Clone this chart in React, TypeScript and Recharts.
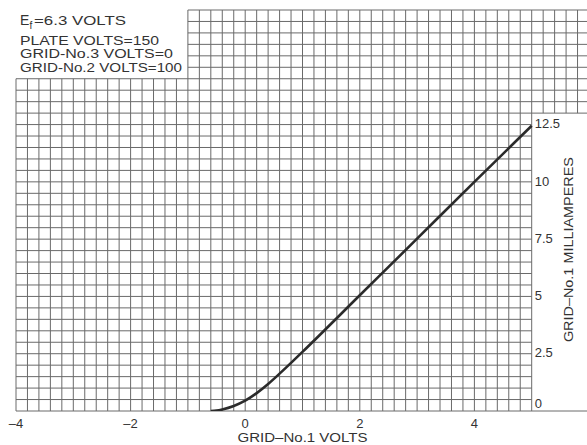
import React from 'react';
import {
  LineChart,
  Line,
  XAxis,
  YAxis,
  ReferenceLine,
  ReferenceDot,
} from 'recharts';

document.body.style.margin = '0';

// curve: grid-No.1 volts vs grid-No.1 milliamperes
const gridVolts = [-0.6, -0.5, -0.4, -0.2, 0, 0.2, 0.4, 0.6, 0.8, 1, 2, 3, 4, 5];
const gridMilliamps = [0, 0.02, 0.07, 0.22, 0.45, 0.78, 1.18, 1.63, 2.1, 2.58, 5.05, 7.52, 10, 12.45];

const xTicks = [-4, -2, 0, 2, 4];
const yTicks = [0, 2.5, 5, 7.5, 10, 12.5];

const conditionLines = ['PLATE VOLTS=150', 'GRID-No.3 VOLTS=0', 'GRID-No.2 VOLTS=100'];

const X_MIN = -4;
const X_MAX = 6;
const Y_MAX = 17.5;
const PANEL_TOP = 13; // right-hand label strip has no ruling below this
const BOX_RIGHT = -1; // legend box corner
const BOX_BOTTOM = 14.5;

const FONT = '"Liberation Sans", Arial, sans-serif';
const INK = '#333';
const RULE = '#6a6a6a';

const data = gridVolts.map((v, i) => ({ v, ma: gridMilliamps[i] }));

// graph-paper ruling: 0.2 V by 0.5 mA
const vRules: number[] = [];
for (let i = 0; i <= 50; i++) vRules.push(Math.round((X_MIN + i * 0.2) * 10) / 10);
const hRules: number[] = [];
for (let i = 0; i <= 35; i++) hRules.push(i * 0.5);

const eps = 1e-6;

const ConditionsBox = (props: any) => {
  const { x, y } = props.viewBox;
  const left = x + 5;
  return (
    <g fontFamily={FONT} fill={INK}>
      <text x={left} y={y + 16} fontSize={14}>E</text>
      <text x={left + 9.5} y={y + 20} fontSize={10}>f</text>
      <text x={left + 14} y={y + 16} fontSize={13} textLength={92} lengthAdjust="spacingAndGlyphs">
        =6.3  VOLTS
      </text>
      {conditionLines.map((t, i) => (
        <text
          key={t}
          x={left}
          y={y + 35.5 + i * 13.7}
          fontSize={12}
          textLength={[139, 153, 162][i]}
          lengthAdjust="spacingAndGlyphs"
        >
          {t}
        </text>
      ))}
    </g>
  );
};

const AmpLabel = (props: any) => {
  const { x, y } = props.viewBox;
  const value = props.value;
  return (
    <text
      x={x + 4}
      y={y + (value === '0' ? -7 : 0)}
      dy="0.36em"
      fontFamily={FONT}
      fontSize={13}
      fill={INK}
    >
      {value}
    </text>
  );
};

const AmpTitle = (props: any) => {
  const { x, y } = props.viewBox;
  return (
    <text
      x={x}
      y={y}
      dy="0.36em"
      transform={`rotate(-90 ${x} ${y})`}
      textAnchor="middle"
      fontFamily={FONT}
      fontSize={13}
      fill={INK}
      textLength={185}
      lengthAdjust="spacingAndGlyphs"
    >
      GRID–No.1  MILLIAMPERES
    </text>
  );
};

const VoltTick = (props: any) => {
  const { x, y, payload } = props;
  const v = payload.value;
  return (
    <text x={x} y={y} dy={9} textAnchor="middle" fontFamily={FONT} fontSize={13} fill={INK}>
      {v < 0 ? `–${Math.abs(v)}` : v}
    </text>
  );
};

const VoltTitle = (props: any) => {
  const { x, y, width } = props.viewBox;
  return (
    <text
      x={x + width / 2}
      y={y + 31}
      textAnchor="middle"
      fontFamily={FONT}
      fontSize={12}
      fill={INK}
      textLength={130}
      lengthAdjust="spacingAndGlyphs"
    >
      GRID–No.1  VOLTS
    </text>
  );
};

export default function App() {
  return (
    <div style={{ width: 587, height: 445, overflow: 'hidden', background: '#fff' }}>
      <LineChart
        width={589}
        height={445}
        data={data}
        margin={{ top: 10, right: 0, bottom: 0, left: 16 }}
      >
        <XAxis
          type="number"
          dataKey="v"
          domain={[X_MIN, X_MAX]}
          ticks={xTicks}
          allowDataOverflow
          axisLine={false}
          tickLine={false}
          height={34}
          tick={<VoltTick />}
          label={<VoltTitle />}
        />
        <YAxis type="number" domain={[0, Y_MAX]} allowDataOverflow hide />

        {vRules.map((x) => (
          <ReferenceLine
            key={`v${x}`}
            segment={[
              { x, y: x > 5 + eps ? PANEL_TOP : 0 },
              { x, y: x < BOX_RIGHT - eps ? BOX_BOTTOM : Y_MAX },
            ]}
            stroke={RULE}
            strokeWidth={1}
            ifOverflow="visible"
          />
        ))}
        {hRules.map((y) => (
          <ReferenceLine
            key={`h${y}`}
            segment={[
              { x: y > BOX_BOTTOM + eps ? BOX_RIGHT : X_MIN, y },
              { x: y > eps && y < PANEL_TOP - eps ? 5 : X_MAX, y },
            ]}
            stroke={RULE}
            strokeWidth={1}
            ifOverflow="visible"
          />
        ))}

        <ReferenceDot
          x={X_MIN}
          y={Y_MAX}
          r={1}
          fill="none"
          stroke="none"
          label={<ConditionsBox />}
        />
        {yTicks.map((t) => (
          <ReferenceDot
            key={`yt${t}`}
            x={5}
            y={t}
            r={1}
            fill="none"
            stroke="none"
            label={<AmpLabel value={String(t)} />}
          />
        ))}
        <ReferenceDot x={5.66} y={7} r={1} fill="none" stroke="none" label={<AmpTitle />} />

        <Line
          type="monotone"
          dataKey="ma"
          stroke="#2b2b2b"
          strokeWidth={2.6}
          dot={false}
          isAnimationActive={false}
        />
      </LineChart>
    </div>
  );
}
